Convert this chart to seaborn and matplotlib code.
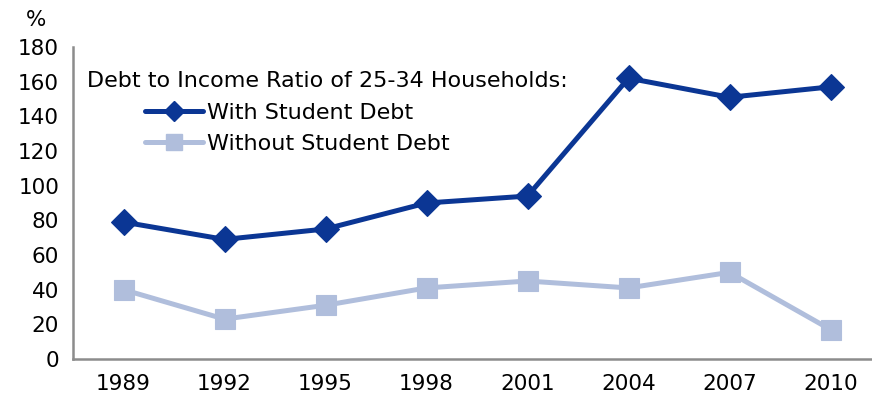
import matplotlib
matplotlib.use("Agg")
import matplotlib.pyplot as plt
import seaborn as sns
import pandas as pd

years = ["1989", "1992", "1995", "1998", "2001", "2004", "2007", "2010"]
with_debt = [79, 69, 75, 90, 94, 162, 151, 157]
without_debt = [40, 23, 31, 41, 45, 41, 50, 17]
series_names = ["With Student Debt", "Without Student Debt"]
legend_title = "Debt to Income Ratio of 25-34 Households:"

dark_blue = "#0B3694"
light_blue = "#B0BEDC"
axis_grey = "#8C8C8C"
TICK_FS = 15.5
LEGEND_FS = 16

sns.set_theme(style="white")
plt.rcParams["font.family"] = ["DejaVu Sans"]
plt.rcParams["text.color"] = "black"

df = pd.DataFrame({
    "pos": list(range(len(years))) * 2,
    "value": with_debt + without_debt,
    "series": [series_names[0]] * len(years) + [series_names[1]] * len(years),
})

fig = plt.figure(figsize=(8.72, 3.98), dpi=100)
ax = fig.add_axes([73 / 872, 39 / 398, 808 / 872, 312 / 398])

marker_sizes = {series_names[0]: 13.5, series_names[1]: 14.5}
sns.lineplot(
    data=df, x="pos", y="value", hue="series", style="series",
    palette={series_names[0]: dark_blue, series_names[1]: light_blue},
    markers={series_names[0]: "D", series_names[1]: "s"},
    dashes=False, linewidth=3.6, ax=ax, legend=False,
)
for line, name in zip(ax.lines, series_names):
    line.set_markersize(marker_sizes[name])
    line.set_markeredgewidth(0.8)
    line.set_markeredgecolor(line.get_color())

ax.set_xlim(-0.5, len(years) - 0.5)
ax.set_ylim(0, 180)
ax.set_yticks(range(0, 181, 20))
ax.set_xticks([i + 0.5 for i in range(-1, len(years))], minor=False)
ax.set_xticklabels([])
ax.set_xticks(range(len(years)), minor=True)
ax.set_xticklabels(years, minor=True)
ax.tick_params(axis="x", which="major", length=6, width=1.5, color=axis_grey, direction="out")
ax.tick_params(axis="x", which="minor", length=0, pad=11, labelsize=TICK_FS, labelcolor="black")
ax.tick_params(axis="y", length=6, width=1.5, color=axis_grey, direction="out",
               pad=4, labelsize=TICK_FS, labelcolor="black")
ax.set_xlabel("")
ax.set_ylabel("")
for side in ("top", "right"):
    ax.spines[side].set_visible(False)
for side in ("left", "bottom"):
    ax.spines[side].set_color(axis_grey)
    ax.spines[side].set_linewidth(1.8)

fig.text(26 / 872, 1 - 20 / 398, "%", fontsize=TICK_FS, va="center", ha="left")
fig.text(87 / 872, 1 - 81 / 398, legend_title, fontsize=LEGEND_FS, va="center", ha="left")

handles = [
    plt.Line2D([], [], color=dark_blue, lw=3.6, marker="D", markersize=10.5),
    plt.Line2D([], [], color=light_blue, lw=3.6, marker="s", markersize=11.5),
]
fig.legend(handles, series_names, loc="upper left",
           bbox_to_anchor=(145 / 872, 1 - 103 / 398), frameon=False,
           fontsize=LEGEND_FS, handlelength=2.6, handletextpad=0.2,
           labelspacing=0.48, borderpad=0, borderaxespad=0)

fig.savefig("out.png", dpi=100)
